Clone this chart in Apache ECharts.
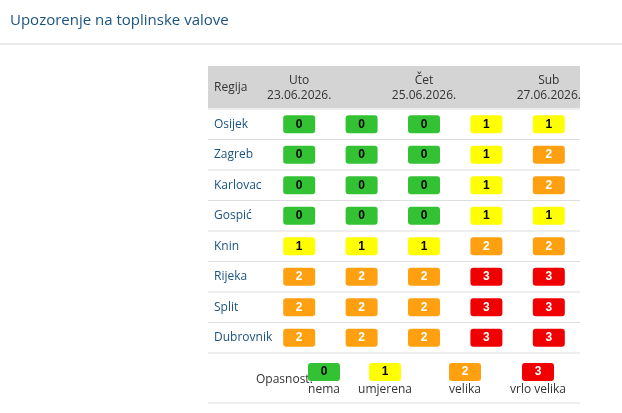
<!DOCTYPE html>
<html>
<head>
<meta charset="utf-8">
<script src="https://cdn.jsdelivr.net/npm/echarts@6/dist/echarts.min.js"></script>
<style>html,body{margin:0;padding:0;background:#fff}#chart{width:622px;height:413px}</style>
</head>
<body>
<div id="chart"></div>
<script>
(function () {
    'use strict';

    var days = ['Uto\n23.06.2026.', 'Sri\n24.06.2026.', 'Čet\n25.06.2026.', 'Pet\n26.06.2026.', 'Sub\n27.06.2026.'];
    var regions = ['Osijek', 'Zagreb', 'Karlovac', 'Gospić', 'Knin', 'Rijeka', 'Split', 'Dubrovnik'];
    var levels = {
        'Osijek':    [0, 0, 0, 1, 1],
        'Zagreb':    [0, 0, 0, 1, 2],
        'Karlovac':  [0, 0, 0, 1, 2],
        'Gospić':    [0, 0, 0, 1, 1],
        'Knin':      [1, 1, 1, 2, 2],
        'Rijeka':    [2, 2, 2, 3, 3],
        'Split':     [2, 2, 2, 3, 3],
        'Dubrovnik': [2, 2, 2, 3, 3]
    };
    var colors = ['#33c233', '#ffff00', '#ffa010', '#f00000'];
    var textColors = ['#000', '#000', '#fff', '#fff'];
    var legendNames = ['nema', 'umjerena', 'velika', 'vrlo velika'];
    var legendX = [324, 385, 465, 538];

    var data = [];
    for (var r = 0; r < regions.length; r++) {
        for (var d = 0; d < days.length; d++) {
            data.push([d, r, levels[regions[r]][d]]);
        }
    }

    var font = '"Open Sans", sans-serif';

    function box(cx, cy, v) {
        return {
            type: 'group',
            children: [{
                type: 'rect',
                shape: { x: cx - 16, y: cy - 9, width: 32, height: 18, r: 3 },
                style: { fill: colors[v] }
            }, {
                type: 'text',
                style: {
                    x: cx, y: cy, text: String(v), align: 'center', verticalAlign: 'middle',
                    fill: textColors[v], font: 'bold 12px "Liberation Sans", Arial, sans-serif'
                }
            }]
        };
    }

    var graphic = [
        { type: 'text', left: 10, top: 13, style: { text: 'Upozorenje na toplinske valove', fill: '#1b5380', font: '15px ' + font } },
        { type: 'line', shape: { x1: 0, y1: 44, x2: 622, y2: 44 }, style: { stroke: '#d8d8d8', lineWidth: 1 } },
        { type: 'rect', shape: { x: 208, y: 66, width: 372, height: 42 }, style: { fill: '#d4d4d4' }, z: -1 },
        { type: 'text', style: { x: 214, y: 88, text: 'Regija', verticalAlign: 'middle', fill: '#333', font: '12px ' + font } },
        { type: 'text', style: { x: 256, y: 380, text: 'Opasnost:', verticalAlign: 'middle', fill: '#333', font: '12px ' + font } },
        { type: 'line', shape: { x1: 208, y1: 403, x2: 580, y2: 403 }, style: { stroke: '#ddd', lineWidth: 1 } }
    ];
    for (var i = 0; i <= regions.length; i++) {
        var y = 109 + i * 30.5;
        graphic.push({ type: 'line', shape: { x1: 208, y1: y, x2: 580, y2: y }, style: { stroke: '#ddd', lineWidth: 1 } });
    }
    for (var l = 0; l < legendNames.length; l++) {
        var g = box(legendX[l], 372, l);
        graphic.push(g);
        graphic.push({ type: 'text', style: { x: legendX[l], y: 390, text: legendNames[l], align: 'center', verticalAlign: 'middle', fill: '#333', font: '12px ' + font } });
    }

    var chart = echarts.init(document.getElementById('chart'));

    chart.setOption({
        animation: false,
        grid: { left: 268, right: 42, top: 109, height: 244 },
        xAxis: {
            type: 'category',
            position: 'top',
            data: days,
            axisLine: { show: false },
            axisTick: { show: false },
            axisLabel: { color: '#333', fontFamily: '"Open Sans", sans-serif', fontSize: 12, lineHeight: 15, margin: 6 }
        },
        yAxis: {
            type: 'category',
            inverse: true,
            data: regions,
            axisLine: { show: false },
            axisTick: { show: false },
            axisLabel: { color: '#1b5380', fontFamily: '"Open Sans", sans-serif', fontSize: 12, align: 'left', margin: 54 }
        },
        graphic: graphic,
        series: [{
            type: 'custom',
            data: data,
            renderItem: function (params, api) {
                var p = api.coord([api.value(0), api.value(1)]);
                return box(p[0], p[1], api.value(2));
            }
        }]
    });
}());
</script>
</body>
</html>
